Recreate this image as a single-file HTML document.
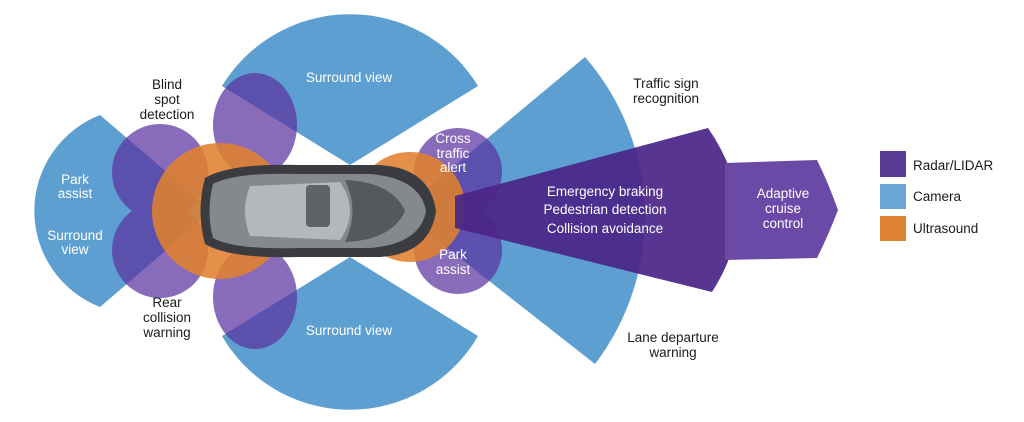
<!DOCTYPE html>
<html><head><meta charset="utf-8"><style>
html,body{margin:0;padding:0;background:#fff;}
svg{display:block;}
text{font-family:"Liberation Sans",sans-serif;font-size:13.5px;}
.w{fill:#fff;} .b{fill:#1a1a1a;}
</style></head><body>
<svg width="1024" height="422" viewBox="0 0 1024 422">
<g fill="#5e9fd1">
<path d="M350,165 L222,86 A150 150 0 0 1 478,86 Z"/>
<path d="M350,257 L222,336 A148 148 0 0 0 478,336 Z"/>
<path d="M212,211 L100,115 A103 103 0 0 0 100,307 Z"/>
<path d="M400,211 L585,57 A243 243 0 0 1 595,364 Z"/>
</g>
<g fill="#5b33a0" opacity="0.72">
<circle cx="160" cy="172" r="48"/>
<circle cx="160" cy="250" r="48"/>
<ellipse cx="255" cy="125" rx="42" ry="52"/>
<ellipse cx="255" cy="297" rx="42" ry="52"/>
<circle cx="458" cy="172" r="44"/>
<circle cx="458" cy="250" r="44"/>
</g>
<g fill="#e0812f" opacity="0.88">
<circle cx="220" cy="211" r="68"/>
<circle cx="410" cy="207" r="55"/>
</g>
<path d="M455,196 L708,128 Q765,210 712,292 L455,228 Z" fill="#4a2688" opacity="0.93"/>
<path d="M725,163 L817,160 Q828,182 838,210 Q828,236 817,258 L725,260 Z" fill="#6a4aa6"/>
<g>
<path d="M205,178 Q230,163 300,165 L380,165 Q430,168 436,211 Q430,254 380,257 L300,257 Q230,259 205,244 Q196,211 205,178 Z" fill="#3a3c40"/>
<path d="M213,184 Q235,172 300,174 L370,174 Q420,178 426,211 Q420,244 370,248 L300,248 Q235,250 213,238 Q206,211 213,184 Z" fill="#85888d"/>
<path d="M250,186 L340,182 Q360,211 340,240 L250,236 Q240,211 250,186 Z" fill="#b4b7bb"/>
<rect x="306" y="185" width="24" height="42" rx="4" fill="#5f6267"/>
<path d="M345,180 Q392,182 405,211 Q392,240 345,242 Q360,211 345,180 Z" fill="#55585d"/>
</g>
<g class="w" text-anchor="middle">
<text x="349" y="82">Surround view</text>
<text x="349" y="335">Surround view</text>
<text x="75" y="184">Park</text><text x="75" y="198">assist</text>
<text x="75" y="240">Surround</text><text x="75" y="254">view</text>
<text x="453" y="143">Cross</text><text x="453" y="158">traffic</text><text x="453" y="172">alert</text>
<text x="453" y="259">Park</text><text x="453" y="274">assist</text>
<text x="605" y="196">Emergency braking</text>
<text x="605" y="214">Pedestrian detection</text>
<text x="605" y="233">Collision avoidance</text>
<text x="783" y="198">Adaptive</text><text x="783" y="213">cruise</text><text x="783" y="228">control</text>
</g>
<g class="b" text-anchor="middle">
<text x="167" y="89">Blind</text><text x="167" y="104">spot</text><text x="167" y="119">detection</text>
<text x="167" y="307">Rear</text><text x="167" y="322">collision</text><text x="167" y="337">warning</text>
<text x="666" y="88">Traffic sign</text><text x="666" y="103">recognition</text>
<text x="673" y="342">Lane departure</text><text x="673" y="357">warning</text>
</g>
<rect x="880" y="151" width="26" height="26" fill="#5b3a96"/>
<rect x="880" y="184" width="26" height="25" fill="#6aa5d6"/>
<rect x="880" y="216" width="26" height="25" fill="#de8332"/>
<g class="b"><text x="913" y="170">Radar/LIDAR</text><text x="913" y="201">Camera</text><text x="913" y="233">Ultrasound</text></g>
</svg>
</body></html>
